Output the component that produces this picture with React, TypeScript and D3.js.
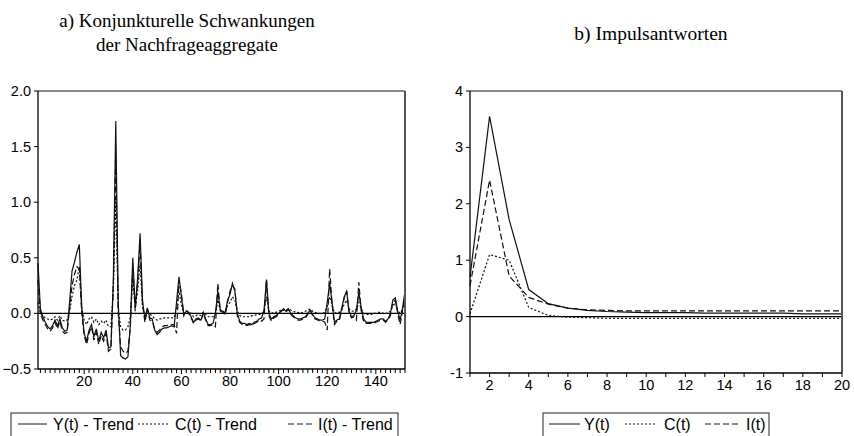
import React from "react";
import * as d3 from "d3";

// ---------- Data ----------
const yTrend = [
  0.45, 0.04, -0.03, -0.08, -0.12, -0.14, -0.11, -0.06, -0.11, -0.05,
  -0.13, -0.16, -0.15, 0.10, 0.38, 0.46, 0.55, 0.62, 0.05, -0.18,
  -0.25, -0.15, -0.10, -0.21, -0.14, -0.25, -0.17, -0.22, -0.15, -0.31,
  -0.30, 0.30, 1.73, 0.10, -0.38, -0.40, -0.41, -0.39, -0.10, 0.50,
  0.05, 0.32, 0.72, 0.12, -0.06, 0.05, -0.04, -0.05, -0.15, -0.19,
  -0.17, -0.14, -0.13, -0.13, -0.12, -0.11, -0.12, 0.10, 0.33, 0.15,
  -0.01, 0.02, 0.01, -0.03, -0.08, -0.05, -0.04, -0.06, 0.01, -0.05,
  -0.10, -0.10, -0.09, 0.00, 0.20, 0.03, 0.02, 0.00, 0.12, 0.17,
  0.27, 0.20, 0.00, -0.07, -0.09, -0.09, -0.10, -0.09, -0.10, -0.08,
  -0.07, -0.05, -0.04, 0.03, 0.30, 0.00, -0.05, -0.03, -0.02, 0.00,
  0.02, 0.04, 0.02, 0.04, 0.00, -0.02, -0.04, -0.05, -0.05, -0.04,
  -0.03, 0.00, 0.03, -0.01, -0.04, -0.05, -0.06, -0.06, -0.05, 0.10,
  0.27, 0.10, -0.08, -0.06, -0.05, 0.05, 0.15, 0.20, 0.02, -0.03,
  -0.02, 0.03, 0.19, 0.05, -0.05, -0.08, -0.08, -0.08, -0.08, -0.07,
  -0.06, -0.05, -0.05, -0.07, -0.05, 0.00, 0.12, 0.14, 0.02, -0.06,
  0.05, 0.20,
];

const cTrend = [
  0.10, 0.00, -0.02, -0.04, -0.05, -0.06, -0.05, -0.03, -0.06, -0.02,
  -0.06, -0.07, -0.06, 0.02, 0.15, 0.25, 0.30, 0.42, 0.05, -0.06,
  -0.10, -0.05, -0.03, -0.08, -0.05, -0.10, -0.07, -0.09, -0.06, -0.12,
  -0.12, 0.20, 1.05, 0.05, -0.12, -0.15, -0.15, -0.12, -0.03, 0.30,
  0.05, 0.20, 0.45, 0.06, -0.02, 0.03, -0.01, -0.02, -0.05, -0.06,
  -0.05, -0.05, -0.04, -0.04, -0.04, -0.04, -0.04, 0.05, 0.20, 0.08,
  0.00, 0.02, 0.01, 0.00, -0.03, -0.02, -0.01, -0.02, 0.01, -0.01,
  -0.03, -0.03, -0.03, 0.00, 0.12, 0.03, 0.02, 0.01, 0.07, 0.10,
  0.15, 0.12, 0.02, -0.02, -0.03, -0.03, -0.03, -0.03, -0.02, -0.02,
  -0.01, -0.01, -0.01, 0.02, 0.15, 0.02, 0.00, 0.01, 0.01, 0.02,
  0.03, 0.04, 0.03, 0.04, 0.03, 0.02, 0.01, 0.01, 0.00, 0.01,
  0.02, 0.03, 0.04, 0.02, 0.01, 0.00, 0.00, 0.00, 0.01, 0.06,
  0.15, 0.08, 0.00, 0.01, 0.01, 0.04, 0.08, 0.12, 0.04, 0.02,
  0.02, 0.04, 0.10, 0.04, 0.00, -0.01, -0.01, -0.01, 0.00, 0.00,
  0.01, 0.01, 0.00, 0.00, 0.00, 0.02, 0.07, 0.09, 0.03, 0.00,
  0.04, 0.12,
];

const iTrend = [
  0.30, 0.00, -0.06, -0.10, -0.14, -0.16, -0.13, -0.08, -0.14, -0.07,
  -0.16, -0.18, -0.17, 0.05, 0.25, 0.35, 0.42, 0.40, 0.00, -0.20,
  -0.28, -0.18, -0.12, -0.24, -0.17, -0.28, -0.20, -0.25, -0.18, -0.34,
  -0.32, 0.25, 1.40, 0.00, -0.30, -0.34, -0.36, -0.34, -0.12, 0.42,
  0.02, 0.28, 0.62, 0.08, -0.08, 0.04, -0.06, -0.07, -0.14, -0.17,
  -0.15, -0.12, -0.11, -0.11, -0.10, -0.10, -0.10, -0.18, 0.30, 0.18,
  -0.02, 0.03, 0.00, -0.04, -0.09, -0.06, -0.05, -0.07, 0.00, -0.06,
  -0.11, -0.11, -0.10, -0.12, 0.27, 0.02, 0.01, -0.01, 0.10, 0.20,
  0.25, 0.22, -0.02, -0.08, -0.10, -0.10, -0.11, -0.10, -0.11, -0.09,
  -0.08, -0.06, -0.07, -0.05, 0.31, -0.02, -0.07, -0.04, -0.03, -0.01,
  0.02, 0.03, 0.01, 0.04, -0.01, -0.03, -0.05, -0.06, -0.06, -0.05,
  -0.04, -0.01, 0.03, -0.02, -0.05, -0.06, -0.07, -0.07, -0.08, -0.15,
  0.40, 0.08, -0.10, -0.07, -0.06, 0.03, 0.14, 0.20, 0.00, -0.04,
  -0.03, -0.06, 0.28, 0.02, -0.08, -0.09, -0.09, -0.09, -0.09, -0.08,
  -0.07, -0.06, -0.06, -0.08, -0.06, -0.02, 0.10, 0.12, 0.00, -0.10,
  0.03, 0.15,
];

const yIrf = [0.7, 3.55, 1.72, 0.48, 0.23, 0.15, 0.11, 0.09, 0.08, 0.07, 0.07, 0.07, 0.06, 0.06, 0.06, 0.06, 0.06, 0.05, 0.05, 0.05];
const cIrf = [0.05, 1.1, 1.0, 0.16, 0.02, -0.01, -0.02, -0.03, -0.03, -0.03, -0.03, -0.03, -0.03, -0.03, -0.03, -0.03, -0.03, -0.03, -0.03, -0.03];
const iIrf = [0.55, 2.42, 0.72, 0.34, 0.22, 0.15, 0.12, 0.11, 0.1, 0.1, 0.1, 0.1, 0.1, 0.1, 0.1, 0.1, 0.1, 0.1, 0.1, 0.1];

const leftYTicks = [-0.5, 0, 0.5, 1.0, 1.5, 2.0];
const leftXLabels = [20, 40, 60, 80, 100, 120, 140];
const rightYTicks = [-1, 0, 1, 2, 3, 4];
const rightXLabels = [2, 4, 6, 8, 10, 12, 14, 16, 18, 20];

const leftLegend = ["Y(t) - Trend", "C(t) - Trend", "I(t) - Trend"];
const rightLegend = ["Y(t)", "C(t)", "I(t)"];

// ---------- styles ----------
const SANS = "'Liberation Sans', Arial, Helvetica, sans-serif";
const SERIF = "'Liberation Serif', 'Times New Roman', serif";
const DASH = { solid: undefined, dotted: "2,2", dashed: "6,3" } as const;

type PanelProps = {
  x0: number; x1: number; y0: number; y1: number;
  xDomain: [number, number]; yDomain: [number, number];
  series: number[][];
  yTicks: number[]; yFmt: (v: number) => string;
  minorX: number[]; xLabels: number[];
  majorLen: number;
};

function Panel(p: PanelProps) {
  const x = d3.scaleLinear().domain(p.xDomain).range([p.x0, p.x1]);
  const y = d3.scaleLinear().domain(p.yDomain).range([p.y1, p.y0]);
  const styles = [DASH.solid, DASH.dotted, DASH.dashed];
  const line = d3.line<number>().x((_, i) => x(i + 1)).y((d) => y(d));
  return (
    <g>
      <line x1={p.x0} x2={p.x1} y1={y(0)} y2={y(0)} stroke="#000" strokeWidth={1.2} />
      {p.series.map((s, k) => (
        <path key={k} d={line(s) || ""} fill="none" stroke="#111" strokeWidth={1.2}
          strokeDasharray={styles[k]} />
      ))}
      <line x1={p.x0} x2={p.x1} y1={p.y0} y2={p.y0} stroke="#111" strokeWidth={1.2} />
      <line x1={p.x1} x2={p.x1} y1={p.y0} y2={p.y1} stroke="#555" strokeWidth={2} />
      <line x1={p.x0} x2={p.x0} y1={p.y0} y2={p.y1} stroke="#000" strokeWidth={1.3} />
      <line x1={p.x0} x2={p.x1} y1={p.y1} y2={p.y1} stroke="#000" strokeWidth={1.3} />
      {p.yTicks.map((t) => (
        <g key={"y" + t}>
          <line x1={p.x0 - 4} x2={p.x0} y1={y(t)} y2={y(t)} stroke="#000" />
          <text x={p.x0 - 7} y={y(t)} dy="0.35em" textAnchor="end" fontFamily={SANS} fontSize={14.5} fill="#000">
            {p.yFmt(t)}
          </text>
        </g>
      ))}
      {p.minorX.map((t) => (
        <line key={"m" + t} x1={x(t)} x2={x(t)} y1={p.y1} y2={p.y1 + (p.xLabels.includes(t) ? p.majorLen : 4)} stroke="#000" />
      ))}
      {p.xLabels.map((t) => (
        <text key={"xl" + t} x={x(t)} y={p.y1 + 17} textAnchor="middle" fontFamily={SANS} fontSize={14.5} fill="#000">
          {t}
        </text>
      ))}
    </g>
  );
}

function Legend({ x0, x1, y0, y1, labels, items }: { x0: number; x1: number; y0: number; y1: number; labels: string[]; items: { lx: number; le: number; tx: number }[] }) {
  const styles = [DASH.solid, DASH.dotted, DASH.dashed];
  const cy = (y0 + y1) / 2 - 1;
  return (
    <g>
      <rect x={x0} y={y0} width={x1 - x0} height={y1 - y0} fill="none" stroke="#222" strokeWidth={1} />
      {labels.map((l, k) => (
        <g key={l}>
          <line x1={items[k].lx} x2={items[k].le} y1={cy} y2={cy} stroke="#111" strokeDasharray={styles[k]} />
          <text x={items[k].tx} y={cy} dy="0.35em" fontFamily={SANS} fontSize={16} fill="#000">{l}</text>
        </g>
      ))}
    </g>
  );
}

export default function App() {
  const minorLeft = d3.range(2, 153, 2);
  const minorRight = d3.range(1, 21, 1);
  return (
    <svg width={854} height={436} style={{ position: "absolute", left: 0, top: 0, background: "#fff" }}>
      <rect width={854} height={436} fill="#fff" />
      <text x={187} y={27} textAnchor="middle" fontFamily={SERIF} fontSize={19} fill="#000">a) Konjunkturelle Schwankungen</text>
      <text x={187} y={51} textAnchor="middle" fontFamily={SERIF} fontSize={19} fill="#000">der Nachfrageaggregate</text>
      <text x={651} y={40} textAnchor="middle" fontFamily={SERIF} fontSize={19.5} fill="#000">b) Impulsantworten</text>

      <Panel x0={38} x1={405} y0={91} y1={369} xDomain={[1, 152]} yDomain={[-0.5, 2]}
        series={[yTrend, cTrend, iTrend]} yTicks={leftYTicks} yFmt={(v) => d3.format(".1f")(v)}
        minorX={minorLeft} xLabels={leftXLabels} majorLen={5} />
      <Panel x0={470} x1={842} y0={91} y1={373} xDomain={[1, 20]} yDomain={[-1, 4]}
        series={[yIrf, cIrf, iIrf]} yTicks={rightYTicks} yFmt={(v) => String(v)}
        minorX={minorRight} xLabels={rightXLabels} majorLen={4} />

      <Legend x0={11} x1={398} y0={413} y1={437} labels={leftLegend}
        items={[{ lx: 18, le: 47, tx: 53 }, { lx: 138, le: 168, tx: 175 }, { lx: 288, le: 312, tx: 318 }]} />
      <Legend x0={543} x1={769} y0={413} y1={437} labels={rightLegend}
        items={[{ lx: 549, le: 580, tx: 584 }, { lx: 625, le: 656, tx: 664 }, { lx: 705, le: 740, tx: 746 }]} />
    </svg>
  );
}
